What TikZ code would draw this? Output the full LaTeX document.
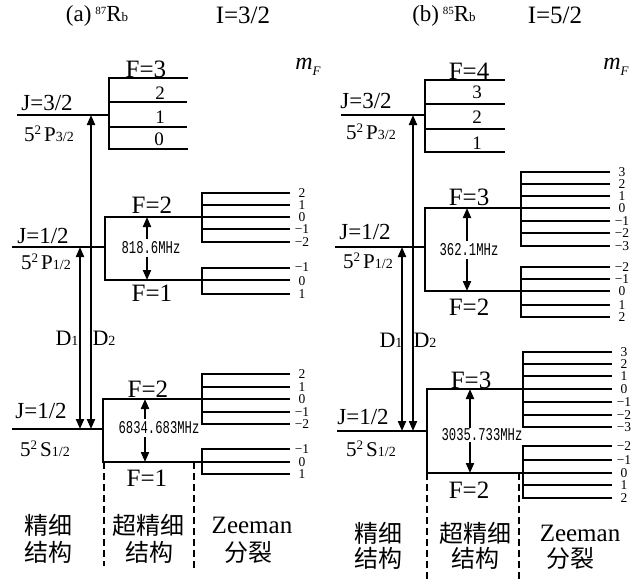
\documentclass[tikz,border=0pt]{standalone}
\usepackage{fontspec}
\setmainfont{Liberation Serif}
\newfontfamily\cjk{Noto Sans CJK SC}
\newfontfamily\monofnt{Liberation Mono}
\usetikzlibrary{arrows.meta}

\newcommand\fsz[1]{\fontsize{#1}{#1}\selectfont}
\newcommand\lowsub[1]{{\fsz{14}#1}}
\newcommand\upsup[1]{\raisebox{7pt}{\fsz{13}#1}}
\newcommand\freqtext[1]{\scalebox{0.68}[1]{#1}}
\newcommand\termtext[3]{#1\upsup{2}\hspace{3pt}#2\lowsub{#3}}

\begin{document}
\begin{tikzpicture}[x=1pt,y=-1pt,
  lvl/.style={line width=2.7pt},
  dsh/.style={line width=2pt,dash pattern=on 7pt off 4pt},
  harr/.style={line width=2pt,-{Triangle[length=10pt,width=8pt]}},
  darr/.style={line width=2pt,{Triangle[length=10pt,width=8pt]}-{Triangle[length=10pt,width=8pt]}},
  big/.style={inner sep=0pt,font=\fsz{25}},
  jlab/.style={inner sep=0pt,font=\fsz{23}},
  term/.style={inner sep=0pt,font=\fsz{21}},
  mf/.style={inner sep=0pt,font=\fsz{13.5}},
  sub/.style={inner sep=0pt,font=\fsz{19}},
  dlab/.style={inner sep=0pt,font=\fsz{22}},
  ttl/.style={inner sep=0pt,font=\fsz{23}},
  freq/.style={inner xsep=0pt,inner ysep=3pt,font=\monofnt\fsz{18}},
  cn/.style={inner sep=0pt,font=\cjk\fsz{24}},
]
\useasboundingbox (0,0) rectangle (633,579);

% ================= (a) 87Rb =================
\node[ttl] (ta) at (97,16) {(a)\,\upsup{\fsz{11}87}R{\fsz{13}b}};
\node[big] (ia) at (243,15) {I=3/2};
\node[inner sep=0pt,font=\fsz{24}] (mfa) at (308,67) {\textit{m}\raisebox{-6pt}{\fsz{13}\textit{F}}};

% 5P3/2
\coordinate (aJ3l) at (17,115); \coordinate (aJ3r) at (109,115);
\draw[lvl] (aJ3l) -- (aJ3r);
\draw[lvl] (188,78) -- (109,78) -- (109,149) -- (188,149);
\draw[lvl] (109,102) -- (187,102);
\draw[lvl] (109,127) -- (187,127);
\node[big] (aF3) at (146,69) {F=3};
\node[sub] (aF2p) at (160,93) {2};
\node[sub] (aF1p) at (160,117) {1};
\node[sub] (aF0p) at (159,139) {0};
\node[jlab] (aJ3t) at (47,103) {J=3/2};
\node[term] (aP3t) at (49,134) {\termtext{5}{P}{3/2}};

% 5P1/2
\coordinate (aJ1l) at (12,247); \coordinate (aJ1r) at (105,247);
\draw[lvl] (aJ1l) -- (aJ1r);
\draw[lvl] (290,217) -- (105,217) -- (105,280) -- (290,280);
\draw[lvl] (290,193) -- (202,193) -- (202,242) -- (290,242);
\draw[lvl] (202,205) -- (290,205);
\draw[lvl] (202,229) -- (290,229);
\draw[lvl] (290,268) -- (202,268) -- (202,294) -- (290,294);
\foreach \y/\m in {193/2,205/1,217/0,229/−1,242/−2,267/−1,281/0,294/1}
  \node[mf] (aZp\y) at (302,\y) {\m};
\node[big] (aPF2) at (152,205) {F=2};
\node[big] (aPF1) at (152,293) {F=1};
\node[jlab] (aJ1t) at (43,236) {J=1/2};
\node[term] (aP1t) at (46,262) {\termtext{5}{P}{1/2}};
\node[freq] (hfa) at (151,248) {\freqtext{818.6MHz}};
\coordinate (aPu) at (147,217); \coordinate (aPd) at (147,280);
\draw[harr] (hfa.north -| aPu) -- (aPu);
\draw[harr] (hfa.south -| aPd) -- (aPd);

% 5S1/2
\coordinate (aGl) at (12,429); \coordinate (aGr) at (103,429);
\draw[lvl] (aGl) -- (aGr);
\draw[lvl] (290,399) -- (103,399) -- (103,462) -- (290,462);
\draw[lvl] (290,374) -- (202,374) -- (202,424) -- (290,424);
\draw[lvl] (202,387) -- (290,387);
\draw[lvl] (202,412) -- (290,412);
\draw[lvl] (290,449) -- (202,449) -- (202,474) -- (290,474);
\foreach \y/\m in {374/2,387/1,399/0,412/−1,424/−2,449/−1,462/0,474/1}
  \node[mf] (aZs\y) at (302,\y) {\m};
\node[big] (aSF2) at (148,389) {F=2};
\node[big] (aSF1) at (147,478) {F=1};
\node[jlab] (aJgt) at (41,411) {J=1/2};
\node[term] (aS1t) at (45,449) {\termtext{5}{S}{1/2}};
\node[freq] (hfb) at (159,428) {\freqtext{6834.683MHz}};
\coordinate (aSu) at (145,399); \coordinate (aSd) at (145,462);
\draw[harr] (hfb.north -| aSu) -- (aSu);
\draw[harr] (hfb.south -| aSd) -- (aSd);

% D lines
\coordinate (aD1t) at (80,247); \coordinate (aD1b) at (80,429);
\coordinate (aD2t) at (91,115); \coordinate (aD2b) at (91,429);
\draw[darr] (aD1b) -- (aD1t);
\draw[darr] (aD2b) -- (aD2t);
\node[dlab] (aD1) at (67,338) {D\lowsub{1}};
\node[dlab] (aD2) at (104,338) {D\lowsub{2}};

% column separators
\draw[dsh] (104,462) -- (104,566);
\draw[dsh] (194,462) -- (194,570);
\node[cn] (aC1) at (48,525) {精细};
\node[cn] (aC2) at (48,552) {结构};
\node[cn] (aC3) at (148,525) {超精细};
\node[cn] (aC4) at (149,552) {结构};
\node[big] (aC5) at (252,525) {Zeeman};
\node[cn] (aC6) at (248,552) {分裂};

% ================= (b) 85Rb =================
\node[ttl] (tb) at (444,16) {(b)\,\upsup{\fsz{11}85}R{\fsz{13}b}};
\node[big] (ib) at (555,15) {I=5/2};
\node[inner sep=0pt,font=\fsz{24}] (mfb) at (616,67) {\textit{m}\raisebox{-6pt}{\fsz{13}\textit{F}}};

% 5P3/2
\coordinate (bJ3l) at (341,115); \coordinate (bJ3r) at (425,115);
\draw[lvl] (bJ3l) -- (bJ3r);
\draw[lvl] (505,80) -- (425,80) -- (425,152) -- (505,152);
\draw[lvl] (425,104) -- (505,104);
\draw[lvl] (425,129) -- (505,129);
\node[big] (bF4) at (469,71) {F=4};
\node[sub] (bF3p) at (477,92) {3};
\node[sub] (bF2p) at (477,117) {2};
\node[sub] (bF1p) at (477,143) {1};
\node[jlab] (bJ3t) at (366,101) {J=3/2};
\node[term] (bP3t) at (371,132) {\termtext{5}{P}{3/2}};

% 5P1/2
\coordinate (bJ1l) at (335,247); \coordinate (bJ1r) at (425,247);
\draw[lvl] (bJ1l) -- (bJ1r);
\draw[lvl] (610,208) -- (425,208) -- (425,291) -- (610,291);
\draw[lvl] (610,172) -- (521,172) -- (521,246) -- (610,246);
\foreach \y in {184,196,221,233} \draw[lvl] (521,\y) -- (610,\y);
\draw[lvl] (610,267) -- (521,267) -- (521,317) -- (610,317);
\draw[lvl] (521,279) -- (610,279);
\draw[lvl] (521,305) -- (610,305);
\foreach \y/\m in {172/3,184/2,196/1,208/0,221/−1,233/−2,246/−3,267/−2,279/−1,291/0,305/1,317/2}
  \node[mf] (bZp\y) at (622,\y) {\m};
\node[big] (bPF3) at (469,197) {F=3};
\node[big] (bPF2) at (469,307) {F=2};
\node[jlab] (bJ1t) at (365,232) {J=1/2};
\node[term] (bP1t) at (368,261) {\termtext{5}{P}{1/2}};
\node[freq] (hfc) at (469,250) {\freqtext{362.1MHz}};
\coordinate (bPu) at (467,208); \coordinate (bPd) at (467,291);
\draw[harr] (hfc.north -| bPu) -- (bPu);
\draw[harr] (hfc.south -| bPd) -- (bPd);

% 5S1/2
\coordinate (bGl) at (337,431); \coordinate (bGr) at (427,431);
\draw[lvl] (bGl) -- (bGr);
\draw[lvl] (612,389) -- (427,389) -- (427,473) -- (612,473);
\draw[lvl] (612,352) -- (523,352) -- (523,427) -- (612,427);
\foreach \y in {364,376,402,415} \draw[lvl] (523,\y) -- (612,\y);
\draw[lvl] (612,446) -- (523,446) -- (523,498) -- (612,498);
\draw[lvl] (523,460) -- (612,460);
\draw[lvl] (523,485) -- (612,485);
\foreach \y/\m in {352/3,364/2,376/1,389/0,402/−1,415/−2,427/−3,446/−2,460/−1,473/0,485/1,498/2}
  \node[mf] (bZs\y) at (624,\y) {\m};
\node[big] (bSF3) at (471,380) {F=3};
\node[big] (bSF2) at (469,490) {F=2};
\node[jlab] (bJgt) at (363,417) {J=1/2};
\node[term] (bS1t) at (371,449) {\termtext{5}{S}{1/2}};
\node[freq,inner ysep=1pt] (hfd) at (482,435) {\freqtext{3035.733MHz}};
\coordinate (bSu) at (470,389); \coordinate (bSd) at (470,473);
\draw[harr] (hfd.north -| bSu) -- (bSu);
\draw[harr] (hfd.south -| bSd) -- (bSd);

% D lines
\coordinate (bD1t) at (402,247); \coordinate (bD1b) at (402,431);
\coordinate (bD2t) at (413,115); \coordinate (bD2b) at (413,431);
\draw[darr] (bD1b) -- (bD1t);
\draw[darr] (bD2b) -- (bD2t);
\node[dlab] (bD1) at (391,340) {D\lowsub{1}};
\node[dlab] (bD2) at (425,340) {D\lowsub{2}};

% column separators
\draw[dsh] (427,473) -- (427,579);
\draw[dsh] (519,473) -- (519,579);
\node[cn] (bC1) at (378,533) {精细};
\node[cn] (bC2) at (378,558) {结构};
\node[cn] (bC3) at (475,533) {超精细};
\node[cn] (bC4) at (475,558) {结构};
\node[big] (bC5) at (580,533) {Zeeman};
\node[cn] (bC6) at (570,558) {分裂};
\end{tikzpicture}
\end{document}
